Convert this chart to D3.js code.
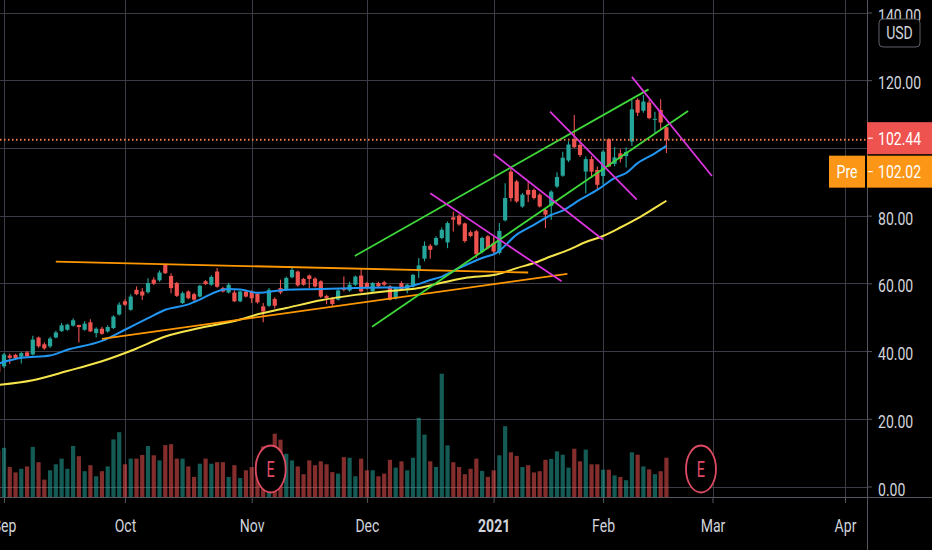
<!DOCTYPE html>
<html>
<head>
<meta charset="utf-8">
<script src="https://cdn.jsdelivr.net/npm/d3@7"></script>
<style>
  html, body { margin: 0; padding: 0; background: #000; overflow: hidden; }
  svg { display: block; }
</style>
</head>
<body>
<svg id="chart"></svg>
<script>
// bar index 0 = first trading day of Sep 2020, one bar per session
const firstIndex = -1;

const opens = [
  36.0, 35.5, 38.7, 38.9, 38.3, 39.6, 39.0, 44.0, 42.0, 41.4,
  44.0, 45.9, 46.3, 47.5, 47.7, 46.3, 48.5, 45.3, 46.6, 45.8,
  46.8, 50.8, 54.7, 52.2, 58.1, 57.6, 57.4, 61.1, 60.9, 65.5,
  62.2, 60.1, 54.2, 57.6, 56.8, 56.1, 60.6, 59.6, 63.5, 58.6,
  57.3, 57.3, 54.7, 57.6, 57.6, 56.9, 53.2, 53.4, 55.4, 58.6,
  58.1, 61.8, 63.5, 61.3, 62.3, 61.4, 60.6, 56.3, 55.6, 55.2,
  58.6, 57.9, 59.6, 62.3, 60.1, 57.6, 60.1, 60.3, 59.1, 55.5,
  60.1, 58.1, 59.1, 63.8, 67.3, 71.1, 71.4, 73.4, 72.1, 79.5,
  80.0, 77.7, 75.1, 75.4, 69.2, 73.9, 71.9, 69.0, 78.6, 93.0,
  90.1, 82.7, 87.6, 87.6, 86.2, 81.7, 82.9, 88.6, 91.8, 96.3,
  102.6, 100.9, 93.0, 96.7, 93.5, 91.7, 102.6, 95.3, 98.4, 97.6,
  101.9, 114.2, 111.0, 113.4, 108.3, 111.2, 106.1
];
const highs = [
  36.6, 39.4, 39.3, 39.2, 39.8, 40.0, 44.5, 44.3, 42.6, 44.2,
  46.0, 48.3, 48.1, 49.7, 47.8, 48.8, 49.4, 47.0, 47.2, 47.6,
  50.6, 54.4, 55.3, 56.8, 59.1, 58.6, 61.5, 61.8, 63.8, 65.8,
  63.0, 60.4, 57.6, 58.0, 57.2, 59.6, 61.0, 62.4, 64.5, 59.0,
  60.2, 58.0, 57.9, 58.1, 58.0, 57.3, 54.2, 58.6, 55.9, 61.1,
  62.0, 64.5, 63.8, 61.6, 62.6, 61.8, 60.9, 56.6, 56.0, 58.3,
  62.0, 60.5, 62.3, 64.5, 60.5, 60.4, 60.5, 60.8, 59.5, 58.9,
  60.6, 59.9, 62.8, 67.5, 72.4, 71.6, 73.9, 76.5, 78.3, 81.2,
  80.5, 78.0, 75.6, 75.8, 73.8, 74.3, 73.9, 77.8, 89.6, 94.0,
  90.6, 86.7, 90.1, 88.0, 86.6, 82.2, 87.5, 92.8, 98.9, 102.0,
  109.7, 101.6, 97.5, 97.6, 94.5, 99.4, 102.8, 100.2, 99.6, 100.1,
  114.2, 114.7, 115.6, 114.2, 110.7, 114.4, 106.8
];
const lows = [
  33.4, 35.0, 36.2, 37.5, 36.3, 38.2, 38.7, 41.0, 40.4, 40.9,
  43.8, 45.6, 46.0, 47.2, 42.5, 46.0, 45.6, 44.0, 44.8, 45.4,
  46.5, 50.5, 53.3, 51.9, 56.5, 55.1, 57.0, 59.5, 60.5, 62.8,
  57.1, 56.0, 53.9, 55.3, 54.5, 55.8, 59.5, 59.3, 58.7, 57.3,
  57.0, 54.5, 54.4, 55.8, 54.2, 54.0, 48.5, 53.0, 52.6, 56.8,
  57.8, 61.5, 59.0, 59.3, 58.6, 58.8, 55.7, 53.8, 53.0, 54.9,
  57.6, 57.5, 59.2, 57.3, 58.2, 57.2, 58.7, 59.2, 54.9, 55.2,
  57.8, 57.0, 58.8, 61.6, 66.5, 67.3, 71.0, 73.0, 70.4, 75.3,
  77.0, 72.0, 73.6, 67.5, 68.8, 70.0, 69.0, 68.5, 78.3, 84.2,
  83.8, 82.3, 84.0, 84.8, 82.4, 76.3, 78.8, 88.2, 91.5, 95.8,
  100.0, 97.3, 86.6, 91.1, 87.6, 89.1, 94.3, 94.6, 95.7, 94.2,
  100.6, 109.4, 110.4, 108.5, 104.3, 105.3, 98.5
];
const closes = [
  33.8, 39.0, 38.0, 37.9, 39.4, 38.5, 43.4, 41.4, 40.8, 43.7,
  45.5, 47.6, 47.8, 49.1, 47.1, 48.1, 45.8, 46.6, 45.1, 47.1,
  50.2, 53.7, 53.7, 56.1, 56.8, 56.4, 60.1, 59.9, 63.2, 63.0,
  58.6, 56.3, 57.1, 55.6, 55.2, 59.3, 59.8, 61.9, 59.0, 57.6,
  59.6, 54.7, 57.6, 56.1, 55.6, 54.4, 51.7, 58.1, 53.4, 57.3,
  61.6, 64.0, 59.4, 59.6, 61.3, 59.1, 56.1, 55.6, 53.9, 57.9,
  58.1, 59.6, 62.0, 57.6, 58.6, 60.1, 59.1, 59.6, 55.2, 58.6,
  58.1, 59.6, 62.5, 65.3, 71.1, 69.9, 73.4, 75.8, 77.8, 78.8,
  77.4, 72.5, 74.0, 68.6, 73.4, 70.4, 69.4, 75.5, 85.2, 85.2,
  84.2, 86.2, 86.2, 85.2, 82.7, 80.3, 87.1, 91.4, 97.1, 101.0,
  100.2, 97.9, 96.7, 93.0, 89.1, 98.9, 94.5, 97.2, 96.7, 98.8,
  111.4, 110.4, 113.7, 108.8, 108.6, 107.5, 102.44
];
// volume, millions
const volumes = [
  15.6, 16.4, 10.0, 8.2, 9.4, 10.2, 16.7, 11.6, 5.8, 8.9,
  10.9, 12.8, 9.4, 17.0, 13.6, 8.6, 10.6, 6.9, 8.6, 10.2,
  19.2, 21.6, 10.9, 12.8, 12.8, 14.0, 17.0, 13.9, 12.2, 17.3,
  17.6, 12.8, 12.8, 10.2, 6.7, 11.1, 12.8, 11.1, 11.6, 11.6,
  6.7, 10.6, 6.3, 8.9, 10.0, 12.2, 16.9, 13.3, 21.1, 19.1,
  14.4, 12.2, 10.2, 7.6, 12.2, 10.6, 11.9, 10.9, 8.3, 7.8,
  13.3, 13.1, 6.9, 12.8, 8.9, 8.9, 6.9, 7.8, 12.4, 9.8,
  11.9, 8.9, 13.1, 26.4, 20.8, 11.9, 10.0, 41.1, 17.2, 11.6,
  10.0, 7.6, 9.4, 12.8, 8.7, 6.7, 8.9, 13.9, 23.6, 14.9,
  13.7, 10.0, 10.6, 8.2, 8.6, 12.4, 12.7, 15.2, 14.1, 9.8,
  16.1, 11.9, 15.8, 10.9, 10.9, 9.1, 9.1, 7.2, 6.7, 5.6,
  14.9, 14.1, 10.2, 9.2, 7.6, 8.6, 13.1
];

// moving averages: [bar index, price]
const maFast = [
  [-1, 36.3], [3, 38.0], [8, 38.7], [11, 40.4], [17, 43.0], [21, 46.3],
  [25, 49.7], [28, 52.2], [32, 53.8], [34, 55.2], [37, 57.6], [39, 58.3],
  [41, 58.2], [44, 57.2], [49, 58.1], [55, 58.3], [61, 58.6], [66, 58.8],
  [69, 58.7], [71, 59.3], [74, 61.0], [76, 62.0], [79, 64.5], [83, 67.5],
  [85.5, 69.0], [89, 74.4], [92, 77.3], [95, 80.2], [97, 81.5], [100, 84.7],
  [103, 87.6], [106, 91.1], [108, 92.6], [110, 95.5], [113, 98.4], [115, 100.6]
];
const maSlow = [
  [-1, 30.0], [5, 31.4], [11, 34.1], [17, 37.0], [22.5, 40.4], [28, 44.3],
  [34, 46.8], [41, 49.3], [43.5, 50.6], [49, 52.7], [55, 55.0], [61, 56.6],
  [66, 57.6], [72, 58.6], [75, 59.8], [80, 61.6], [85.5, 62.6], [89, 64.5],
  [92, 66.0], [95, 68.0], [98, 69.9], [101, 72.2], [104, 74.0], [107, 76.5],
  [110, 79.2], [113, 82.3], [115, 84.4]
];

// hand drawn trend lines: [[bar index, price], [bar index, price]]
const orangeLines = [
  [[9.0, 66.4], [91.0, 63.2]],
  [[17.0, 43.6], [97.8, 62.8]]
];
const greenLines = [
  [[60.9, 68.1], [111.9, 117.3]],
  [[63.9, 47.2], [118.75, 110.9]]
];
const magentaLines = [
  [[74.0, 86.6], [96.8, 60.6]],
  [[85.0, 98.2], [104.0, 72.9]],
  [[94.8, 110.7], [109.85, 84.7]],
  [[109.0, 121.0], [122.9, 91.7]]
];

const earnings = [46.3, 121];

const monthTicks = [0, 21, 43, 63, 85, 104, 123, 146];
const monthLabels = ['Sep', 'Oct', 'Nov', 'Dec', '2021', 'Feb', 'Mar', 'Apr'];
const priceTicks = [0, 20, 40, 60, 80, 100, 120, 140];

const lastPrice = 102.44;
const prePrice = 102.02;

// layout
const W = 932, H = 550;
const plotRight = 867, plotBottom = 497;
const sx = 0.78; // horizontal squeeze of the lettering
const font = 'Roboto, "DejaVu Sans", sans-serif';

const colors = {
  grid: '#3a3d46', axis: '#53565e', text: '#d1d4dc',
  up: '#26a69a', down: '#ef5350',
  volUp: 'rgba(38,166,154,0.55)', volDown: 'rgba(239,83,80,0.55)',
  fast: '#2196f3', slow: '#f5e54a',
  orange: '#ff9800', green: '#3fd83a', magenta: '#d935dc',
  earn: '#e04b64', priceLine: '#f07c45', pre: '#fb9616'
};

const x = d3.scaleLinear().domain([0, 146]).range([4, 845]);
const y = d3.scaleLinear().domain([0, 140]).range([486.5, 12.5]);
const yVol = d3.scaleLinear().domain([0, 50]).range([plotBottom, plotBottom - 150]);

const bars = opens.map((o, k) => ({
  i: firstIndex + k, o: o, h: highs[k], l: lows[k], c: closes[k], v: volumes[k]
}));

const lastY = y(lastPrice) - 1.5;
const preY = lastY + 33.5;

const svg = d3.select('#chart').attr('width', W).attr('height', H);
svg.append('rect').attr('width', W).attr('height', H).attr('fill', '#000');

svg.append('defs').append('clipPath').attr('id', 'plot-clip')
  .append('rect').attr('x', 0).attr('y', 0)
  .attr('width', plotRight).attr('height', plotBottom);

// grid
const grid = svg.append('g');
grid.selectAll('line.h').data(priceTicks).join('line').attr('class', 'h')
  .attr('x1', 0).attr('x2', plotRight)
  .attr('y1', d => Math.round(y(d)) + 0.5).attr('y2', d => Math.round(y(d)) + 0.5)
  .attr('stroke', colors.grid);
grid.selectAll('line.v').data(monthTicks).join('line').attr('class', 'v')
  .attr('y1', 0).attr('y2', plotBottom)
  .attr('x1', d => Math.round(x(d)) + 0.5).attr('x2', d => Math.round(x(d)) + 0.5)
  .attr('stroke', colors.grid);

const plot = svg.append('g').attr('clip-path', 'url(#plot-clip)');

// volume
plot.append('g').selectAll('rect').data(bars).join('rect')
  .attr('x', d => x(d.i) - 2.1)
  .attr('width', 4.2)
  .attr('y', d => yVol(d.v))
  .attr('height', d => plotBottom - yVol(d.v))
  .attr('fill', d => d.c >= d.o ? colors.volUp : colors.volDown);

// earnings markers
const earn = plot.append('g').selectAll('g').data(earnings).join('g')
  .attr('transform', d => `translate(${x(d)},469)`);
earn.append('ellipse').attr('rx', 15).attr('ry', 23.5)
  .attr('fill', '#000').attr('stroke', colors.earn).attr('stroke-width', 1.8);
earn.append('text').text('E')
  .attr('transform', 'scale(0.66,1)')
  .attr('text-anchor', 'middle').attr('dy', '0.36em')
  .attr('font-family', font).attr('font-size', 22)
  .attr('fill', colors.earn);

// candles
const candle = plot.append('g').selectAll('g').data(bars).join('g');
candle.append('line')
  .attr('x1', d => x(d.i)).attr('x2', d => x(d.i))
  .attr('y1', d => y(d.h)).attr('y2', d => y(d.l))
  .attr('stroke', d => d.c >= d.o ? colors.up : colors.down)
  .attr('stroke-width', 1.1);
candle.append('rect')
  .attr('x', d => x(d.i) - 2.1)
  .attr('width', 4.2)
  .attr('y', d => y(Math.max(d.o, d.c)))
  .attr('height', d => Math.max(1, Math.abs(y(d.o) - y(d.c))))
  .attr('fill', d => d.c >= d.o ? colors.up : colors.down);

// moving averages
const maLine = d3.line().x(d => x(d[0])).y(d => y(d[1])).curve(d3.curveMonotoneX);
plot.append('path').datum(maSlow).attr('d', maLine)
  .attr('fill', 'none').attr('stroke', colors.slow).attr('stroke-width', 2);
plot.append('path').datum(maFast).attr('d', maLine)
  .attr('fill', 'none').attr('stroke', colors.fast).attr('stroke-width', 2);

// drawings
const segLine = d3.line().x(d => x(d[0])).y(d => y(d[1]));
const drawSet = (lines, color) => {
  plot.append('g').selectAll('path').data(lines).join('path')
    .attr('d', segLine)
    .attr('fill', 'none').attr('stroke', color).attr('stroke-width', 1.8);
};
drawSet(orangeLines, colors.orange);
drawSet(greenLines, colors.green);
drawSet(magentaLines, colors.magenta);

// last price line
plot.append('line')
  .attr('x1', 0).attr('x2', plotRight)
  .attr('y1', y(lastPrice)).attr('y2', y(lastPrice))
  .attr('stroke', colors.priceLine).attr('stroke-width', 2)
  .attr('stroke-dasharray', '1.5,2.5');

// right price axis (labels under the price boxes are hidden, as on the original)
const yAxisG = svg.append('g')
  .attr('transform', `translate(${plotRight},0)`)
  .call(d3.axisRight(y).tickValues(priceTicks).tickFormat(d3.format('.2f')).tickSize(5));
yAxisG.attr('font-family', font).attr('font-size', 18);
yAxisG.select('.domain').remove();
yAxisG.selectAll('.tick')
  .filter(d => y(d) > lastY - 20 && y(d) < preY + 20)
  .remove();
yAxisG.selectAll('.tick line').attr('stroke', colors.axis);
yAxisG.selectAll('.tick text')
  .attr('fill', colors.text)
  .attr('x', 11 / sx).attr('dy', '0.48em')
  .attr('transform', `scale(${sx},1)`);

// bottom time axis
const xAxisG = svg.append('g')
  .attr('transform', `translate(0,${plotBottom})`)
  .call(d3.axisBottom(x).tickValues(monthTicks).tickFormat((d, k) => monthLabels[k]).tickSize(6));
xAxisG.attr('font-family', font).attr('font-size', 18);
xAxisG.select('.domain').remove();
xAxisG.selectAll('.tick line').attr('stroke', colors.axis);
xAxisG.selectAll('.tick text')
  .attr('fill', colors.text)
  .attr('y', 22).attr('dy', '0.71em')
  .attr('font-weight', (d, k) => monthLabels[k] === '2021' ? 'bold' : null)
  .attr('transform', `scale(${sx},1)`);

// axis borders
svg.append('line').attr('x1', plotRight + 0.5).attr('x2', plotRight + 0.5)
  .attr('y1', 0).attr('y2', H).attr('stroke', colors.axis);
svg.append('line').attr('x1', 0).attr('x2', W)
  .attr('y1', plotBottom + 0.5).attr('y2', plotBottom + 0.5).attr('stroke', colors.axis);

// price labels on the axis
const label = (x0, yMid, w, fill, txt, anchor) => {
  svg.append('rect').attr('x', x0).attr('y', yMid - 16).attr('width', w).attr('height', 32)
    .attr('fill', fill);
  svg.append('text')
    .attr('transform', `translate(${anchor === 'middle' ? x0 + w / 2 : 878},${yMid}) scale(${sx},1)`)
    .attr('text-anchor', anchor).attr('dy', '0.36em')
    .attr('font-family', font).attr('font-size', 18).attr('fill', '#fff')
    .text(txt);
};
label(plotRight, lastY, W - plotRight, colors.down, lastPrice.toFixed(2), 'start');
label(829, preY, 36, colors.pre, 'Pre', 'middle');
label(plotRight, preY, W - plotRight, colors.pre, prePrice.toFixed(2), 'start');
[lastY, preY].forEach(v => {
  svg.append('line').attr('x1', plotRight + 1).attr('x2', plotRight + 6)
    .attr('y1', v).attr('y2', v).attr('stroke', '#fff').attr('stroke-width', 1);
});

// currency badge
svg.append('rect').attr('x', 879).attr('y', 19).attr('width', 41).attr('height', 28)
  .attr('rx', 4).attr('fill', '#000').attr('stroke', '#5d6069');
svg.append('text')
  .attr('transform', `translate(899.5,33) scale(${sx},1)`)
  .attr('text-anchor', 'middle').attr('dy', '0.36em')
  .attr('font-family', font).attr('font-size', 18).attr('fill', colors.text)
  .text('USD');
</script>
</body>
</html>
